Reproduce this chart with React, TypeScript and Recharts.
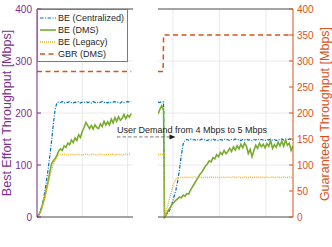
import React from 'react';
import { ComposedChart, Line, XAxis, YAxis, ReferenceLine, Legend } from 'recharts';

const FONT = '"Liberation Sans", Arial, Helvetica, sans-serif';
const BLUE = '#0072BD';
const GREEN = '#77AC30';
const YELLOW = '#EDB120';
const ORANGE = '#D95319';
const PURPLE = '#7E2F8E';
const FRAME = '#4a4a4a';
const GRID = '#e4e4e4';
const TEXT = '#262626';

const seriesNames = ['BE (Centralized)', 'BE (DMS)', 'BE (Legacy)', 'GBR (DMS)'];
const annotationText = 'User Demand from 4 Mbps to 5 Mbps';

// ---- left panel (0–10 s)
const leftTime = [0, 0.2, 0.4, 0.6, 0.8, 1, 1.2, 1.4, 1.6, 1.8, 2, 2.2, 2.4, 2.6, 2.8, 3, 3.2, 3.4, 3.6, 3.8, 4, 4.2, 4.4, 4.6, 4.8, 5, 5.2, 5.4, 5.6, 5.8, 6, 6.2, 6.4, 6.6, 6.8, 7, 7.2, 7.4, 7.6, 7.8, 8, 8.2, 8.4, 8.6, 8.8, 9, 9.2, 9.4, 9.6, 9.8, 10, 10.2, 10.4];
const leftCentralized = [0, 5, 13, 25, 42, 64, 88, 115, 145, 178, 207, 220, 221, 220, 222, 219, 221, 220, 222, 220, 219, 221, 220, 222, 219, 221, 220, 222, 220, 221, 219, 222, 220, 221, 219, 221, 222, 220, 221, 219, 222, 220, 221, 222, 220, 221, 219, 222, 220, 221, 222, 221, 222];
const leftDMS = [0, 4, 11, 22, 35, 50, 66, 85, 102, 108, 112, 119, 127, 131, 128, 137, 134, 142, 139, 148, 143, 152, 147, 158, 153, 165, 172, 182, 176, 170, 176, 169, 177, 172, 170, 179, 174, 184, 177, 183, 177, 188, 181, 191, 184, 193, 186, 190, 197, 189, 196, 192, 199];
const leftLegacy = [0, 3, 9, 19, 34, 48, 62, 76, 89, 101, 109, 115, 119, 121, 120, 121, 120, 119, 120, 121, 120, 119, 120, 121, 120, 119, 120, 121, 120, 119, 120, 121, 120, 119, 120, 121, 120, 120, 119, 121, 120, 120, 121, 119, 120, 121, 120, 119, 120, 121, 120, 121, 120];
const leftGbrTime = [0, 10.4];
const leftGbr = [280, 280];

// ---- right panel (118.4–133 s)
const rightTime = [118.4, 118.6, 118.8, 119.0,
  119.1, 119.3, 119.5, 119.7, 119.9, 120.1, 120.3, 120.5, 120.7, 120.9,
  121.1, 121.3, 121.5, 121.7, 121.9, 122.1, 122.3, 122.5, 122.7, 122.9,
  123.1, 123.3, 123.5, 123.7, 123.9, 124.1, 124.3, 124.5, 124.7, 124.9,
  125.1, 125.3, 125.5, 125.7, 125.9, 126.1, 126.3, 126.5, 126.7, 126.9,
  127.1, 127.3, 127.5, 127.7, 127.9, 128.1, 128.3, 128.5, 128.7, 128.9,
  129.1, 129.3, 129.5, 129.7, 129.9, 130.1, 130.3, 130.5, 130.7, 130.9,
  131.1, 131.3, 131.5, 131.7, 131.9, 132.1, 132.3, 132.5, 132.7, 132.9];
const rightCentralized = [221, 220, 222, 221,
  0, 3, 8, 15, 25, 38, 50, 68, 90, 118,
  140, 148, 149, 148, 150, 148, 149, 147, 149, 148,
  150, 148, 149, 147, 149, 148, 150, 148, 149, 147,
  149, 148, 150, 148, 149, 147, 149, 148, 150, 148,
  149, 147, 149, 148, 150, 148, 149, 147, 149, 148,
  150, 148, 149, 148, 147, 149, 148, 150, 148, 149,
  147, 149, 148, 150, 148, 149, 148, 150, 149, 148];
const rightDMS = [198, 207, 214, 205,
  0, 6, 12, 18, 24, 28, 32, 35, 38, 37,
  42, 40, 45, 44, 52, 58, 64, 70, 76, 82,
  86, 92, 98, 102, 108, 106, 114, 112, 120, 116,
  124, 120, 128, 122, 126, 132, 126, 135, 129, 137,
  131, 140, 133, 142, 136, 122, 130, 116, 128, 138,
  132, 142, 135, 140, 133, 141, 136, 147, 132, 139,
  134, 144, 137, 146, 136, 148, 138, 142, 128, 137];
const rightLegacy = [120, 121, 120, 120,
  0, 12, 26, 40, 53, 64, 72, 75, 76, 76,
  77, 76, 76, 77, 76, 76, 77, 76, 76, 77,
  76, 76, 77, 76, 76, 77, 76, 76, 77, 76,
  76, 77, 76, 76, 77, 76, 76, 77, 76, 76,
  77, 76, 76, 77, 76, 76, 77, 76, 76, 77,
  76, 76, 77, 76, 76, 77, 76, 76, 77, 76,
  76, 77, 76, 76, 77, 76, 76, 77, 76, 76];
const rightGbrTime = [118.4, 118.95, 119.0, 132.9];
const rightGbr = [280, 280, 350, 350];

// ---- axes
const leftXDomain = [0, 10.6];
const rightXDomain = [118.4, 132.9];
const leftXTicks = [0, 5, 10];
const rightXTicks = [120, 125, 130];
const beTicks = [0, 100, 200, 300, 400];
const gbrTicks = [0, 50, 100, 150, 200, 250, 300, 350, 400];
const yDomain = [0, 400];
const gridValues = [100, 200, 300];
const arrowFrom = { x: 114.0, y: 154 };
const arrowTo = { x: 120.28, y: 154 };

const rows = (ts: number[], vs: number[]) => ts.map((t, i) => ({ t, v: vs[i] }));

const lineStyles: Record<string, any> = {
  'BE (Centralized)': { stroke: BLUE, strokeWidth: 1.2, strokeDasharray: '3.5 1.5 1 1.5' },
  'BE (DMS)': { stroke: GREEN, strokeWidth: 1.6 },
  'BE (Legacy)': { stroke: YELLOW, strokeWidth: 1.3, strokeDasharray: '1 1' },
  'GBR (DMS)': { stroke: ORANGE, strokeWidth: 1.5, strokeDasharray: '5 3.5' },
};

const renderLegend = (props: any) => {
  const seen = new Set<string>();
  const items = (props.payload || []).filter((p: any) => {
    if (seen.has(p.value)) return false;
    seen.add(p.value);
    return true;
  });
  return (
    <div style={{ border: '1px solid #7a7a7a', background: '#fff', padding: '1.5px 3px 0.5px 2px', fontFamily: FONT, fontSize: 9, color: TEXT, boxSizing: 'border-box', width: 91 }}>
      {items.map((p: any) => {
        const st = lineStyles[p.value] || {};
        return (
          <div key={p.value} style={{ display: 'flex', alignItems: 'center', height: 12.2, whiteSpace: 'nowrap' }}>
            <svg width={16} height={6} style={{ marginRight: 2, flex: 'none' }}>
              <line x1={0} y1={3} x2={16} y2={3} stroke={st.stroke} strokeWidth={st.strokeWidth} strokeDasharray={st.strokeDasharray} />
            </svg>
            <span>{p.value}</span>
          </div>
        );
      })}
    </div>
  );
};

const ArrowShape = (props: any) => {
  const { x1, y1, x2, y2 } = props;
  return (
    <g>
      <line x1={x1} y1={y1} x2={x2 - 5} y2={y2} stroke="#555" strokeWidth={0.8} strokeDasharray="3.5 2" />
      <polygon points={`${x2},${y2} ${x2 - 6},${y2 - 2.5} ${x2 - 6},${y2 + 2.5}`} fill="#1a1a1a" />
      <text x={x1} y={y1 - 3.5} fontSize={9} fill={TEXT} fontFamily={FONT}>{annotationText}</text>
    </g>
  );
};

const leftYLabel = (props: any) => {
  const vb = props.viewBox || {};
  const cx = vb.x + 6.5;
  const cy = vb.y + vb.height / 2;
  return (
    <text x={cx} y={cy} transform={`rotate(-90 ${cx} ${cy})`} textAnchor="middle" dominantBaseline="central" fill={PURPLE} fontSize={12.5} fontFamily={FONT}>
      Best Effort Throughput [Mbps]
    </text>
  );
};

const rightYLabel = (props: any) => {
  const vb = props.viewBox || {};
  const cx = vb.x + vb.width - 7;
  const cy = vb.y + vb.height / 2 + 1;
  return (
    <text x={cx} y={cy} transform={`rotate(-90 ${cx} ${cy})`} textAnchor="middle" dominantBaseline="central" fill={ORANGE} fontSize={12.5} fontFamily={FONT}>
      Guaranteed Throughput [Mbps]
    </text>
  );
};

const xLabel = (props: any) => {
  const vb = props.viewBox || {};
  return (
    <text x={vb.x + vb.width / 2 + 2} y={vb.y + 28.5} textAnchor="middle" fill={TEXT} fontSize={11.5} fontFamily={FONT}>
      Time [seconds]
    </text>
  );
};

export default function App() {
  const panels = [
    { id: 'L', domain: leftXDomain, ticks: leftXTicks },
    { id: 'R', domain: rightXDomain, ticks: rightXTicks },
  ];
  return (
    <div style={{ position: 'absolute', left: 0, top: 0, background: '#fff' }}>
      <ComposedChart width={332} height={247} margin={{ top: 9, right: 0, bottom: 30, left: 0 }} style={{ fontFamily: FONT }}>
        <XAxis xAxisId="L" type="number" dataKey="t" domain={leftXDomain} allowDataOverflow ticks={leftXTicks} interval={0}
          padding={{ left: 0, right: 160 }} height={0} axisLine={false} tickSize={-4} tickMargin={11}
          tickLine={{ stroke: FRAME }} tick={{ fill: TEXT, fontSize: 10 }} label={xLabel} />
        <XAxis xAxisId="R" type="number" dataKey="t" domain={rightXDomain} allowDataOverflow ticks={rightXTicks} interval={0}
          padding={{ left: 121, right: 0 }} height={0} axisLine={false} tickSize={-4} tickMargin={11}
          tickLine={{ stroke: FRAME }} tick={{ fill: TEXT, fontSize: 10 }} />
        <YAxis yAxisId="BE" orientation="left" domain={yDomain} ticks={beTicks} interval={0} width={37}
          axisLine={{ stroke: PURPLE }} tickLine={{ stroke: PURPLE }} tickSize={-4} tickMargin={9}
          tick={{ fill: PURPLE, fontSize: 10 }} label={leftYLabel} />
        <YAxis yAxisId="G" orientation="right" domain={yDomain} ticks={gbrTicks} interval={0} width={39}
          axisLine={{ stroke: ORANGE }} tickLine={{ stroke: ORANGE }} tickSize={-4} tickMargin={8}
          tick={{ fill: ORANGE, fontSize: 10 }} label={rightYLabel} />

        {panels.map((p) => p.ticks.map((x) => (
          <ReferenceLine key={`vg-${p.id}-${x}`} xAxisId={p.id} yAxisId="BE" x={x} stroke={GRID} strokeWidth={0.8} ifOverflow="visible" />
        )))}
        {panels.map((p) => gridValues.map((y) => (
          <ReferenceLine key={`hg-${p.id}-${y}`} xAxisId={p.id} yAxisId="BE" ifOverflow="visible"
            segment={[{ x: p.domain[0], y }, { x: p.domain[1], y }]} stroke={GRID} strokeWidth={0.8} />
        )))}

        <Line xAxisId="L" yAxisId="BE" data={rows(leftTime, leftCentralized)} dataKey="v" name={seriesNames[0]} dot={false} activeDot={false} isAnimationActive={false} {...lineStyles[seriesNames[0]]} />
        <Line xAxisId="L" yAxisId="BE" data={rows(leftTime, leftDMS)} dataKey="v" name={seriesNames[1]} dot={false} activeDot={false} isAnimationActive={false} {...lineStyles[seriesNames[1]]} />
        <Line xAxisId="L" yAxisId="BE" data={rows(leftTime, leftLegacy)} dataKey="v" name={seriesNames[2]} dot={false} activeDot={false} isAnimationActive={false} {...lineStyles[seriesNames[2]]} />
        <Line xAxisId="L" yAxisId="G" data={rows(leftGbrTime, leftGbr)} dataKey="v" name={seriesNames[3]} dot={false} activeDot={false} isAnimationActive={false} {...lineStyles[seriesNames[3]]} />

        <Line xAxisId="R" yAxisId="BE" data={rows(rightTime, rightCentralized)} dataKey="v" name={seriesNames[0]} legendType="none" dot={false} activeDot={false} isAnimationActive={false} {...lineStyles[seriesNames[0]]} />
        <Line xAxisId="R" yAxisId="BE" data={rows(rightTime, rightDMS)} dataKey="v" name={seriesNames[1]} legendType="none" dot={false} activeDot={false} isAnimationActive={false} {...lineStyles[seriesNames[1]]} />
        <Line xAxisId="R" yAxisId="BE" data={rows(rightTime, rightLegacy)} dataKey="v" name={seriesNames[2]} legendType="none" dot={false} activeDot={false} isAnimationActive={false} {...lineStyles[seriesNames[2]]} />
        <Line xAxisId="R" yAxisId="G" data={rows(rightGbrTime, rightGbr)} dataKey="v" name={seriesNames[3]} legendType="none" dot={false} activeDot={false} isAnimationActive={false} {...lineStyles[seriesNames[3]]} />

        {panels.map((p) => [yDomain[0], yDomain[1]].map((y) => (
          <ReferenceLine key={`fr-${p.id}-${y}`} xAxisId={p.id} yAxisId="BE" ifOverflow="visible"
            segment={[{ x: p.domain[0], y }, { x: p.domain[1], y }]} stroke={FRAME} strokeWidth={1} />
        )))}

        <ReferenceLine xAxisId="R" yAxisId="BE" ifOverflow="visible" segment={[arrowFrom, arrowTo]} shape={ArrowShape} />

        <Legend layout="vertical" align="center" verticalAlign="middle" content={renderLegend}
          wrapperStyle={{ left: 37, top: 9, width: 91, height: 'auto' }} />
      </ComposedChart>
    </div>
  );
}
